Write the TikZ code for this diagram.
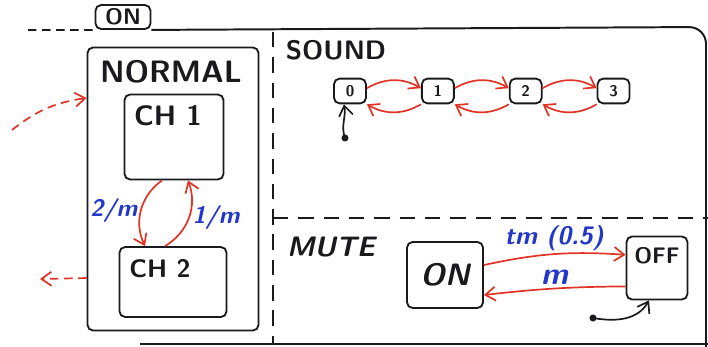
\documentclass[tikz,border=0pt]{standalone}
\usepackage{fontspec}
\usetikzlibrary{arrows.meta,positioning}
\definecolor{ink}{RGB}{25,25,30}
\definecolor{redink}{RGB}{225,50,35}
\definecolor{blueink}{RGB}{35,55,200}
\newcommand{\penfont}[1]{\fontsize{#1}{#1}\selectfont}

\begin{document}
\begin{tikzpicture}[x=0.025cm, y=-0.025cm, node distance=1.35cm, every node/.style={font=\sffamily, text=ink}, box/.style={draw=ink, line width=1.3pt, rounded corners=4pt}, numbox/.style={box, minimum width=0.8cm, minimum height=0.62cm, font=\sffamily\bfseries\penfont{11}}, title/.style={inner sep=1pt, font=\sffamily\bfseries\penfont{#1}}, arrow/.style={-{Straight Barb[length=2.5mm, width=3.5mm]}, draw=redink, line width=1.2pt}, init/.style={-{Straight Barb[length=2.5mm, width=3.5mm]}, draw=ink, line width=1.2pt}, guard/.style={inner sep=2pt, text=blueink, font=\sffamily\bfseries\slshape\penfont{#1}}, border/.style={draw=ink, line width=1.4pt}, region/.style={draw=ink, line width=1.3pt, dash pattern=on 11pt off 7pt}]
\useasboundingbox (0,0) rectangle (708,347);
% ON superstate
\node[box, minimum width=1.375cm, minimum height=0.6cm, title=16] (ontab) at (123,17) {ON};
\draw[region, dash pattern=on 6pt off 4pt] (28,30) -- (ontab.south west);
\draw[border, rounded corners=12pt] (ontab.south east) -- (706,27) -- (706,347);
\draw[border] (140,344) -- (708,344);
\coordinate (splittop) at (273,32);
\coordinate (splitbottom) at (273,344);
\coordinate (splitright) at (708,218);
\draw[region] (splittop) -- (splitbottom);
\draw[region] (splittop |- splitright) -- (splitright);
% NORMAL
\node[box, minimum width=4.275cm, minimum height=7.075cm] (normal) at (173,189) {};
\node[title=22] (normaltitle) at (171,72) {NORMAL};
\node[box, minimum width=2.475cm, minimum height=2.125cm] (chone) at (174,137) {};
\node[title=20] (chonetitle) at (168,116) {CH 1};
\node[box, minimum width=2.675cm, minimum height=1.75cm] (chtwo) at (173,282) {};
\node[title=18] (chtwotitle) at (160,269) {CH 2};
\draw[arrow] ([xshift=-0.3cm]chone.south) to[bend right=40] node[guard=17, left] {2/m} ([xshift=-0.7cm]chtwo.north);
\draw[arrow] ([xshift=-0.2cm]chtwo.north) to[bend right=40] node[guard=17, right] {1/m} ([xshift=0.35cm]chone.south);
\coordinate (normalin) at (12,130);
\coordinate (normalout) at (40,279);
\draw[arrow, dash pattern=on 6pt off 4pt] (normalin) to[bend left=15] ([yshift=2.275cm]normal.west);
\draw[arrow, dash pattern=on 6pt off 4pt] ([yshift=-2.225cm]normal.west) -- (normalout);
% SOUND
\node[title=19] (soundtitle) at (336,50) {SOUND};
\node[numbox] (vol0) at (350,91) {0};
\node[numbox, right=of vol0] (vol1) {1};
\node[numbox, right=of vol1] (vol2) {2};
\node[numbox, right=of vol2] (vol3) {3};
\foreach \a/\b in {0/1,1/2,2/3} {
  \draw[arrow] ([yshift=2pt]vol\a.east) to[bend left=30] ([yshift=2pt]vol\b.west);
  \draw[arrow] (vol\b.south west) to[bend left=30] (vol\a.south east);
}
\coordinate (soundinit) at (345,138);
\fill[ink] (soundinit) circle (2.5pt);
\draw[init] (soundinit) to[out=110, in=-80] ([xshift=-0.15cm]vol0.south);
% MUTE
\node[title=20, font=\sffamily\bfseries\slshape\penfont{20}] (mutetitle) at (331,247) {MUTE};
\node[box, minimum width=1.9cm, minimum height=1.65cm, font=\sffamily\bfseries\slshape\penfont{22}] (muteon) at (445,275) {ON};
\node[box, minimum width=1.525cm, minimum height=1.575cm, label={[anchor=north, inner sep=0pt, yshift=-0.3cm, font=\sffamily\bfseries\penfont{16}]north:OFF}] (muteoff) at (657,268) {};
\draw[arrow] ([yshift=0.25cm]muteon.east) to[bend left=8] node[guard=18, above] {tm (0.5)} ([yshift=0.33cm]muteoff.west);
\draw[arrow] ([yshift=-0.46cm]muteoff.west) to[bend right=3] node[guard=22, above] {m} ([yshift=-0.5cm]muteon.east);
\coordinate (muteinit) at (593,318);
\fill[ink] (muteinit) circle (2.5pt);
\draw[init] (muteinit) to[out=-10, in=-120] ([xshift=-0.2cm]muteoff.south);
\end{tikzpicture}
\end{document}
